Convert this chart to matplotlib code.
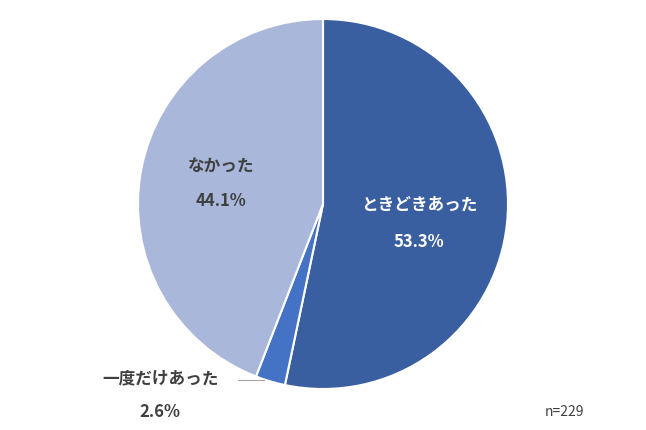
import matplotlib
matplotlib.use("Agg")
import matplotlib.pyplot as plt

plt.rcParams['font.family'] = ['Noto Sans CJK JP', 'DejaVu Sans']

labels = ['ときどきあった', '一度だけあった', 'なかった']
values = [53.3, 2.6, 44.1]
colors = ['#3A5FA0', '#4472C4', '#A9B7DA']
n_total = 229

fig = plt.figure(figsize=(6.46, 4.31), dpi=100)
ax = fig.add_axes([323/646 - 185/646, 1 - 205/431 - 185/431, 370/646, 370/431])
ax.pie(values, colors=colors, startangle=90, counterclock=False,
       wedgeprops=dict(edgecolor='white', linewidth=1.5))
ax.set_xlim(-1, 1)
ax.set_ylim(-1, 1)

ax.text(0.52, 0.0, labels[0], color='white', fontsize=12, fontweight='bold', ha='center', va='center')
ax.text(0.52, -0.2, f'{values[0]}%', color='white', fontsize=12, fontweight='bold', ha='center', va='center')
ax.text(-0.55, 0.21, labels[2], color='#404040', fontsize=12, fontweight='bold', ha='center', va='center')
ax.text(-0.55, 0.02, f'{values[2]}%', color='#404040', fontsize=12, fontweight='bold', ha='center', va='center')
ax.text(-0.88, -0.94, labels[1], color='#404040', fontsize=12, fontweight='bold', ha='center', va='center', clip_on=False)
ax.text(-0.88, -1.12, f'{values[1]}%', color='#404040', fontsize=12, fontweight='bold', ha='center', va='center', clip_on=False)
ax.plot([-0.46, -0.32], [-0.95, -0.95], color='#A6A6A6', linewidth=0.8, clip_on=False)

fig.text(565/646, 1 - 412/431, f'n={n_total}', fontsize=10, color='#404040', ha='center', va='center')

fig.savefig('out.png', dpi=100)
